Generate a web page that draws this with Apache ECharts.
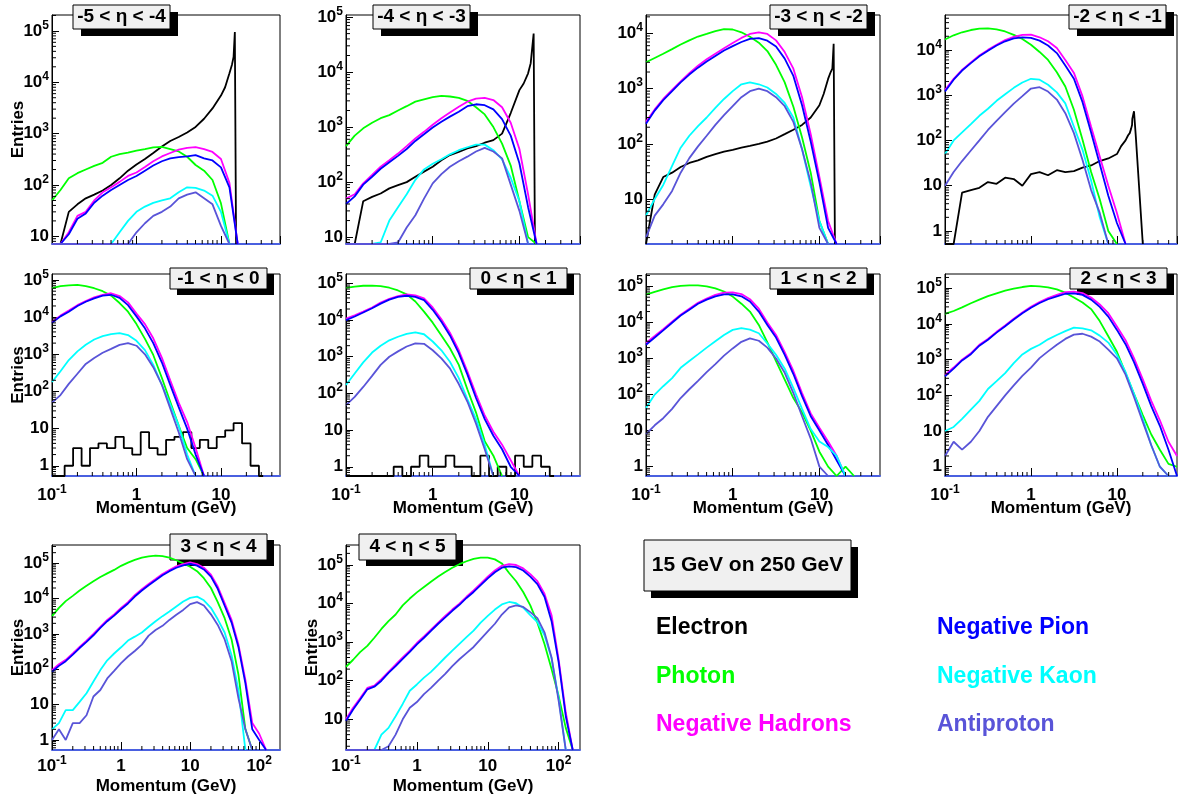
<!DOCTYPE html>
<html><head><meta charset="utf-8">
<script src="https://cdn.jsdelivr.net/npm/echarts@6.0.0/dist/echarts.min.js"></script>
<style>html,body{margin:0;padding:0;background:#fff;}#chart{width:1178px;height:796px;}</style>
</head><body><div id="chart"></div>
<script>
// ---------------- DATA ----------------
// momentum bin centres (GeV)
const P_A = [0.1,0.126,0.158,0.2,0.251,0.316,0.398,0.501,0.631,0.794,1,1.26,1.58,2,2.51,3.16,3.98,5.01,6.31,7.94,10,12.6,15.8,20,25.1,31.6,39.8,50];
const P_B = [0.1,0.126,0.158,0.2,0.251,0.316,0.398,0.501,0.631,0.794,1,1.26,1.58,2,2.51,3.16,3.98,5.01,6.31,7.94,10,12.6,15.8,20,25.1,31.6,39.8,50.1,63.1,79.4,100,126,158,200];
const P_E = [0.1,0.126,0.158,0.2,0.251,0.316,0.398,0.501,0.631,0.794,1,1.26,1.58,2,2.51,3.16,3.98,5.01,6.31,7.94,10,11.2,12.6,13.5,14.1,14.6,15.0,15.1,15.8,16.6,20,31.6,50];

const SPECIES = ['Electron','Photon','Negative Hadrons','Negative Pion','Negative Kaon','Antiproton'];
const PANEL_TITLES = ['-5 < η < -4','-4 < η < -3','-3 < η < -2','-2 < η < -1','-1 < η < 0','0 < η < 1','1 < η < 2','2 < η < 3','3 < η < 4','4 < η < 5'];
const Y_MIN = [7.1,7.5,1.53,0.515,0.53,0.56,0.55,0.55,0.52,1.6];
const Y_MAX = [2.04e5,1.09e5,2.16e4,5.9e4,1.45e5,1.8e5,2.2e5,2.5e5,3.3e5,3.3e5];
const X_MAX = [50,50,50,50,50,50,50,50,200,200];

// -5 < eta < -4
const E1 = [0,0,30,42,55,65,78,100,135,190,250,320,420,560,720,860,1050,1350,1950,3100,5500,8000,15000,22000,31000,95000,95000,0];
const G1 = [50,80,135,170,200,235,270,355,400,425,465,500,540,550,500,450,355,245,190,125,44,0];
const H1 = [0,0,12,25,30,50,72,90,115,150,175,225,290,360,420,490,530,545,500,440,320,110,0];
const PI1 = [0,0,11,22,28,45,62,80,100,125,150,190,240,290,330,350,360,380,330,300,220,90,0];
const K1 = [0,0,0,0,0,0,0,0,12,20,30,38,45,50,55,72,90,88,78,62,30,0];
const AP1 = [0,0,0,0,0,0,0,0,0,0,12,18,25,30,38,55,65,72,55,42,16,0];
// -4 < eta < -3
const E2 = [0,0,45,54,62,77,88,100,125,155,190,250,310,355,410,450,520,580,760,1800,4700,6200,9500,14500,29000,50000,50000,0];
const G2 = [450,700,950,1200,1450,1650,2000,2400,2900,3200,3500,3700,3600,3400,3000,2300,1700,1000,500,200,45,10,0];
const H2 = [50,60,95,135,190,250,330,450,620,820,1100,1450,1850,2350,2900,3300,3400,3100,2300,1200,400,60,0];
const PI2 = [40,55,90,125,175,230,300,400,560,740,980,1250,1550,1900,2400,2600,2500,2100,1400,700,220,35,0];
const K2 = [0,0,0,0,8,20,35,60,110,170,215,260,320,380,430,480,480,380,260,120,45,0];
const AP2 = [0,0,0,0,0,0,8,15,25,50,95,140,190,240,290,360,420,360,270,90,30,0];
// -3 < eta < -2
const E3 = [0,12,25,30,38,45,50,58,65,72,78,85,92,100,110,125,150,180,220,300,500,800,1500,2000,2300,6500,6500,0];
const G3 = [3000,3600,4300,5200,6300,7500,8800,9800,11000,12000,11800,10500,8700,6800,4800,2700,1300,470,130,30,4,0];
const H3 = [250,420,650,950,1350,1900,2600,3400,4300,5400,6700,8300,9800,10500,9800,7500,4600,2300,700,150,25,4,0];
const PI3 = [230,400,620,900,1300,1800,2400,3100,3900,4900,5900,7000,8000,8200,7400,5800,3500,1700,500,110,20,3,0];
const K3 = [5,10,18,40,85,140,210,300,450,650,900,1200,1300,1200,1050,800,550,300,80,17,4,0];
const AP3 = [2,5,8,14,30,55,90,140,220,330,480,700,900,1000,900,700,480,250,80,20,3,0];
// -2 < eta < -1
const E4 = [0,0,7,8,9,12,11,15,14,10,18,20,17,22,20,21,25,28,35,40,50,75,100,130,145,180,220,300,440,120,0];
const G4 = [17000,21000,24500,27500,29500,30000,28500,25500,21500,17500,13000,9000,6000,3200,1550,475,103,20,5,1,0];
const H4 = [1300,2300,3600,5300,7500,10000,13000,16500,19500,21500,21700,19000,15500,11000,6000,3100,940,200,44,10,2.5,0];
const PI4 = [1200,2200,3500,5100,7200,9600,12500,15500,18000,19000,18500,16000,12500,8500,4500,2300,700,150,30,6,1.5,0];
const K4 = [50,100,150,230,350,500,750,1050,1450,1900,2300,2200,1700,1150,660,200,62,13,2,0];
const AP4 = [10,20,35,60,100,170,270,420,650,950,1400,1500,1200,800,400,145,37,8,2.5,0];
// -1 < eta < 0
const E5 = [0,0,1,3,1,3,4,3,6,3,2,8,3,2,5,6,8,3,5,3,6,9,14,4,1,0];
const G5 = [60000,68000,72000,74000,68000,60000,50000,38000,24000,14000,6500,2600,960,230,53,12,3,1.5,0];
const H5 = [7500,11000,15000,21000,27000,34000,40000,44000,37000,25000,12500,6500,2700,800,200,50,15,3,0];
const PI5 = [7000,10500,14000,20000,26000,32000,38000,40000,33000,21000,10500,5000,2000,600,150,38,10,2,0];
const K5 = [180,350,700,1200,1800,2500,3100,3500,3700,3300,2300,1300,520,150,45,12,2,0];
const AP5 = [50,80,160,300,550,800,1100,1400,1800,2000,1700,1000,450,150,35,8,1.5,0];
// 0 < eta < 1
const E6 = [0,0,0,0,0,0,1,0,1,2,1,1,2,1,1,0,2,0,1,0,2,1,2,1,0];
const G6 = [75000,82000,86000,87000,84000,76000,64000,50000,32000,17000,8500,3800,1700,600,130,30,5,2,0];
const H6 = [11000,13500,17000,22000,30000,38000,45000,50000,47000,39000,22000,10500,4500,1500,400,95,25,9,4,1.5,0];
const PI6 = [10000,12500,16000,21000,28000,36000,43000,46000,43000,35000,19000,9000,3800,1250,330,75,20,7,3,1,0];
const K6 = [170,350,700,1300,2000,2800,3500,4200,4600,4100,2600,1500,730,260,70,20,4,0];
const AP6 = [48,80,150,300,600,1000,1400,1900,2300,2250,1500,900,480,180,60,15,3,0];
// 1 < eta < 2
const G7 = [59000,70000,82000,95000,103000,107000,106000,100000,88000,72000,52000,33000,20000,8500,2800,850,260,80,32,10,2.6,1,0,1,0];
const H7 = [2700,4200,6500,10500,16400,24000,35000,46000,58000,67000,68000,61000,44000,24000,10000,4500,1500,450,110,30,12,5,2,0];
const PI7 = [2400,3800,6000,9800,15500,22500,33000,43000,53000,60000,60000,53000,38000,20000,8500,3800,1250,370,90,25,10,4,1.5,0];
const K7 = [42,100,170,285,550,850,1300,2000,3000,4500,6200,6900,6300,5000,2600,1260,520,150,40,11,5,3.5,2,0];
const AP7 = [8,14,22,40,80,140,240,420,700,1200,1900,2900,3600,3100,2000,1000,400,110,25,6,1,0];
// 2 < eta < 3
const G8 = [19000,23000,29000,38000,48000,60000,72000,85000,97000,108000,116000,113000,106000,93000,75000,55000,40000,26000,12000,4500,1660,420,110,28,8,3,1.2,1];
const H8 = [370,600,1000,1500,2600,3800,6000,9000,14000,21000,30000,41000,53000,65000,78000,80000,73000,55000,35000,20000,8500,3500,1100,280,70,20,5,2];
const PI8 = [340,560,950,1420,2450,3600,5700,8600,13300,20000,28500,38500,49000,59000,70000,72000,65000,48000,30000,16000,6800,2700,850,210,50,14,3,0];
const K8 = [10,13,22,40,70,150,250,420,800,1400,2000,2600,3700,4900,6300,7900,7500,6600,4700,3000,1360,450,110,22,4,1,0];
const AP8 = [2,5,3,5,10,25,50,100,190,350,600,1100,1700,2600,3800,5000,5300,4400,3200,1900,1090,380,90,18,4,1,0];
// 3 < eta < 4
const G9 = [3200,5500,8500,12000,17000,23000,31000,41000,52000,65000,85000,105000,125000,145000,158000,165000,160000,145000,122000,100000,80000,60000,38000,20000,8000,2800,700,70,2,0];
const H9 = [95,140,185,280,430,650,1000,1600,2500,3600,5500,8000,12500,18500,26000,36000,50000,65000,82000,95000,106000,95000,75000,48000,22000,7500,2500,500,50,3,1.5,0];
const PI9 = [85,125,170,260,400,600,920,1480,2300,3300,5000,7300,11500,17000,24000,33000,46000,60000,75000,87000,96000,86000,67000,42000,19000,6300,2100,420,40,2,1,0];
const K9 = [2,3,7,7,12,21,45,95,180,280,420,650,840,1100,1600,2300,3200,4300,6000,8300,10500,11400,9000,5500,2600,1100,250,25,0];
const AP9 = [1,2,1,3,3,5,17,26,55,90,150,230,330,500,900,1300,1700,2500,3500,4800,7000,8000,6400,3600,1800,700,170,15,2,0];
// 4 < eta < 5
const G10 = [230,350,550,800,1300,2200,3500,5200,9000,13500,19500,27000,37000,50000,66000,85000,105000,125000,145000,155000,155000,140000,110000,62000,38000,20000,9000,3200,900,200,40,6,0];
const H10 = [10,20,35,65,75,110,170,260,400,600,950,1400,2100,3200,4800,7000,10000,15000,22000,33000,50000,72000,95000,105000,100000,82000,58000,38000,18000,5000,350,15,0];
const PI10 = [9,18,32,60,70,100,160,240,370,560,880,1300,1950,3000,4400,6500,9300,14000,20000,30000,45000,65000,85000,92000,88000,72000,50000,32000,15000,3500,300,12,0];
const K10 = [0,0,0,0,0,4,6,12,25,55,80,120,170,260,400,600,900,1350,2000,3200,4800,7000,9500,11000,10200,7800,5000,3300,1500,380,35,0];
const AP10 = [0,0,0,0,0,0,2,4,10,20,28,45,65,100,150,240,360,520,750,1200,1900,3000,5200,8000,9000,8200,6000,4200,1800,400,30,0];

const PANEL_SERIES = [
  [E1,G1,H1,PI1,K1,AP1],[E2,G2,H2,PI2,K2,AP2],[E3,G3,H3,PI3,K3,AP3],[E4,G4,H4,PI4,K4,AP4],
  [E5,G5,H5,PI5,K5,AP5],[E6,G6,H6,PI6,K6,AP6],[null,G7,H7,PI7,K7,AP7],[null,G8,H8,PI8,K8,AP8],
  [null,G9,H9,PI9,K9,AP9],[null,G10,H10,PI10,K10,AP10]];
const PANEL_X = [P_A,P_A,P_A,P_A,P_A,P_A,P_A,P_A,P_B,P_B];
const ELEC_X = [P_E,P_E,P_E,P_E,P_A,P_A,null,null,null,null];
const MINOR_FACTORS = [2,3,4,5,6,7,8,9];

// ---------------- STYLE / LAYOUT ----------------
const F = '"Liberation Sans", Arial, Helvetica, sans-serif';
const COLORS = ['#000000','#00ff00','#ff00ff','#0000ff','#00ffff','#5954d8'];
const GRID_RECTS = [[52,15,228,229],[346,15,234,229],[646,15,234,229],[945,15,232,229],
  [52,274,228,202],[346,274,234,202],[646,274,234,202],[945,274,232,202],
  [52,545,228,205],[346,545,234,205]];
const TITLE_BOX = [[73,5,97,24,8,7],[373,5,97,24,8,7],[770,5,97,24,8,7],[1069,5,97,24,8,7],
  [170,268,97,21,7,6],[470,268,97,21,7,6],[770,268,97,21,7,6],[1070,268,97,21,7,6],
  [170,534,97,26,7,6],[359,534,97,26,7,6]];
const X_LABEL_MARGIN = [0,0,0,0,8,8,8,8,5,5];
const X_NAME_GAP = [0,0,0,0,24,24,24,24,28,28];
const SHOW_Y_NAME = [1,0,0,0,1,0,0,0,1,1];

const rich = {
  b: {fontSize:17, fontWeight:'bold', fontFamily:F, color:'#000', lineHeight:17, padding:[6,0,0,0]},
  s: {fontSize:12, fontWeight:'bold', fontFamily:F, color:'#000', lineHeight:12, verticalAlign:'top'}
};
function powLabel(v){
  const n = Math.round(v);
  if (Math.abs(v-n) > 1e-6) return '';
  if (n === 0) return '{b|1}';
  if (n === 1) return '{b|10}';
  return '{b|10}{s|' + n + '}';
}

const option = {animation:false, backgroundColor:'#fff', grid:[], xAxis:[], yAxis:[], series:[], graphic:[], legend:[]};

GRID_RECTS.forEach((r, i) => {
  const xMaxLog = Math.log10(X_MAX[i]);
  const yMinLog = Math.log10(Y_MIN[i]);
  const yMaxLog = Math.log10(Y_MAX[i]);
  option.grid.push({left:r[0], top:r[1], width:r[2], height:r[3], show:true, borderColor:'#000', borderWidth:1,
    backgroundColor:'#fff', containLabel:false, outerBoundsMode:'none'});
  const showX = X_LABEL_MARGIN[i] > 0;
  option.xAxis.push({type:'value', gridIndex:i, min:-1, max:xMaxLog, interval:1,
    axisLine:{show:true, onZero:false, lineStyle:{color:'#4a60e0', width:2}},
    axisTick:{inside:true, length:8, lineStyle:{color:'#000', width:1}},
    splitLine:{show:false},
    axisLabel:{show:showX, margin:X_LABEL_MARGIN[i], formatter:powLabel, rich, showMaxLabel:false, color:'#000'},
    name: showX ? 'Momentum (GeV)' : '', nameLocation:'middle', nameGap:X_NAME_GAP[i], nameMoveOverlap:false,
    nameTextStyle:{fontSize:17, fontWeight:'bold', fontFamily:F, color:'#000'}});
  option.yAxis.push({type:'value', gridIndex:i, min:yMinLog, max:yMaxLog, minInterval:1, maxInterval:1,
    axisLine:{show:true, onZero:false, lineStyle:{color:'#000', width:1}},
    axisTick:{inside:true, length:7, lineStyle:{color:'#000', width:1}},
    splitLine:{show:false},
    axisLabel:{margin:3, formatter:powLabel, rich, showMinLabel:false, showMaxLabel:false, color:'#000', padding:[0,0,6,0]},
    name: SHOW_Y_NAME[i] ? 'Entries' : '', nameLocation:'middle', nameGap:25, nameMoveOverlap:false,
    nameTextStyle:{fontSize:17, fontWeight:'bold', fontFamily:F, color:'#000'}});

  // histogram lines
  PANEL_SERIES[i].forEach((arr, s) => {
    if (!arr) return;
    const xs = s === 0 ? ELEC_X[i] : PANEL_X[i];
    const data = arr.map((v, j) => [Math.log10(xs[j]), Math.log10(Math.max(v, Y_MIN[i]))]);
    option.series.push({type:'line', name:SPECIES[s], xAxisIndex:i, yAxisIndex:i, data,
      showSymbol:false, symbol:'none', step:(s === 0 && i >= 4) ? 'middle' : false,
      lineStyle:{color:COLORS[s], width:1.8}, itemStyle:{color:COLORS[s]}, silent:true, clip:true, z:2});
  });

  // log minor ticks
  const ticks = [];
  for (let n = -1; n <= 2; n++) MINOR_FACTORS.forEach(k => {
    const v = Math.log10(k) + n;
    if (v < xMaxLog) ticks.push([v, yMinLog, 0]);
  });
  for (let n = Math.floor(yMinLog); n <= Math.ceil(yMaxLog); n++) MINOR_FACTORS.forEach(k => {
    const v = Math.log10(k) + n;
    if (v > yMinLog && v < yMaxLog) ticks.push([-1, v, 1]);
  });
  option.series.push({type:'custom', xAxisIndex:i, yAxisIndex:i, data:ticks, silent:true, z:3,
    encode:{x:0, y:1},
    renderItem:(params, api) => {
      const p = api.coord([api.value(0), api.value(1)]);
      const t = api.value(2);
      const shape = t === 0 ? {x1:p[0], y1:p[1], x2:p[0], y2:p[1]-4} : {x1:p[0], y1:p[1], x2:p[0]+4, y2:p[1]};
      return {type:'line', shape, style:{stroke:'#000', lineWidth:1}};
    }});

  // panel title box
  const b = TITLE_BOX[i];
  option.graphic.push({type:'group', x:b[0], y:b[1], z:100, children:[
    {type:'rect', shape:{x:b[4], y:b[5], width:b[2], height:b[3]}, style:{fill:'#000'}},
    {type:'rect', shape:{x:0, y:0, width:b[2], height:b[3]}, style:{fill:'#f0f0f0', stroke:'#000', lineWidth:1}},
    {type:'text', x:b[2]/2, y:b[3]/2, style:{text:PANEL_TITLES[i], fill:'#000', font:'bold 19px ' + F,
      align:'center', verticalAlign:'middle', textAlign:'center', textVerticalAlign:'middle'}}
  ]});
});

// global title box
option.graphic.push({type:'group', x:644, y:540, z:100, children:[
  {type:'rect', shape:{x:7, y:7, width:207, height:51}, style:{fill:'#000'}},
  {type:'rect', shape:{x:0, y:0, width:207, height:51}, style:{fill:'#f0f0f0', stroke:'#000', lineWidth:1}},
  {type:'text', x:103.5, y:25.5, style:{text:'15 GeV on 250 GeV', fill:'#000', font:'bold 21px ' + F,
    align:'center', verticalAlign:'middle', textAlign:'center', textVerticalAlign:'middle'}}
]});

const legendBase = {orient:'vertical', top:610, itemWidth:0, itemHeight:26, itemGap:24, icon:'none',
  selectedMode:false, padding:5, textStyle:{fontSize:23, fontWeight:'bold', fontFamily:F}};
option.legend.push(Object.assign({}, legendBase, {left:646,
  data:[0,1,2].map(s => ({name:SPECIES[s], icon:'none', textStyle:{color:COLORS[s], fontSize:23, fontWeight:'bold', fontFamily:F}}))}));
option.legend.push(Object.assign({}, legendBase, {left:927,
  data:[3,4,5].map(s => ({name:SPECIES[s], icon:'none', textStyle:{color:COLORS[s], fontSize:23, fontWeight:'bold', fontFamily:F}}))}));

const chart = echarts.init(document.getElementById('chart'), null, {renderer:'canvas'});
chart.setOption(option);
</script>
</body></html>
